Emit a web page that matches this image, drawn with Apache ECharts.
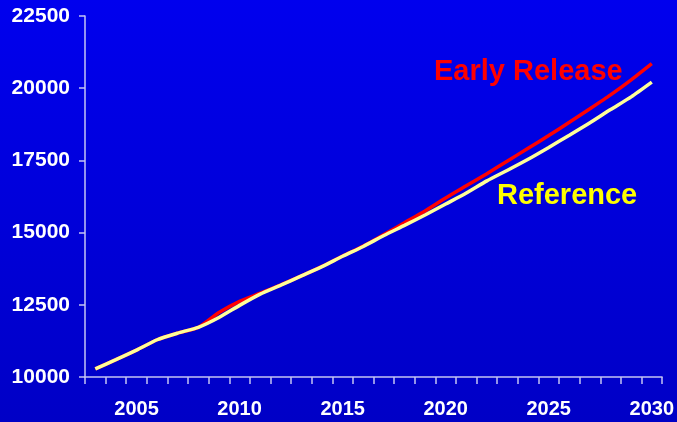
<!DOCTYPE html>
<html>
<head>
<meta charset="utf-8">
<script src="https://cdn.jsdelivr.net/npm/echarts@6/dist/echarts.min.js"></script>
<style>
  html, body { margin: 0; padding: 0; }
  #chart { width: 677px; height: 422px; }
</style>
</head>
<body>
<div id="chart"></div>
<script>
// Years on the horizontal axis
const years = [2003, 2004, 2005, 2006, 2007, 2008, 2009, 2010, 2011, 2012,
               2013, 2014, 2015, 2016, 2017, 2018, 2019, 2020, 2021, 2022,
               2023, 2024, 2025, 2026, 2027, 2028, 2029, 2030];

// Early Release projection
const earlyRelease = [10280, 10600, 10930, 11290, 11520, 11720, 12230, 12620, 12900, 13190,
                      13500, 13830, 14190, 14530, 14930, 15340, 15750, 16200, 16620, 17040,
                      17480, 17920, 18360, 18820, 19290, 19770, 20290, 20850];

// Reference projection
const reference = [10280, 10600, 10930, 11290, 11520, 11720, 12060, 12480, 12870, 13180,
                   13500, 13820, 14180, 14520, 14900, 15250, 15610, 15990, 16370, 16790,
                   17160, 17540, 17950, 18370, 18800, 19260, 19700, 20210];

// Value axis ticks
const yMin = 10000;
const yMax = 22500;
const yStep = 2500;

const axisColor = '#C4C4F4';
const font = '"Liberation Sans", Arial, sans-serif';

const chart = echarts.init(document.getElementById('chart'), null, { renderer: 'canvas' });

chart.setOption({
  animation: false,
  backgroundColor: new echarts.graphic.LinearGradient(0, 0, 0, 1, [
    { offset: 0, color: '#0000EE' },
    { offset: 1, color: '#0000C6' }
  ]),
  grid: { left: 85, right: 13, top: 16, bottom: 45, containLabel: false },
  xAxis: {
    type: 'category',
    data: years.map(String),
    boundaryGap: true,
    axisLine: { show: true, lineStyle: { color: axisColor, width: 1.5 } },
    axisTick: { show: true, interval: 0, length: 7, lineStyle: { color: axisColor, width: 1.5 } },
    axisLabel: {
      interval: (i, v) => Number(v) % 5 === 0,
      color: '#FFFFFF',
      fontFamily: font,
      fontWeight: 'bold',
      fontSize: 20,
      margin: 22
    },
    splitLine: { show: false }
  },
  yAxis: {
    type: 'value',
    min: yMin,
    max: yMax,
    interval: yStep,
    axisLine: { show: true, lineStyle: { color: axisColor, width: 1.5 } },
    axisTick: { show: true, length: 6, lineStyle: { color: axisColor, width: 1.5 } },
    axisLabel: {
      formatter: (v) => String(v),
      color: '#FFFFFF',
      fontFamily: font,
      fontWeight: 'bold',
      fontSize: 21,
      margin: 15
    },
    splitLine: { show: false }
  },
  series: [
    {
      name: 'Early Release',
      type: 'line',
      data: earlyRelease,
      showSymbol: false,
      smooth: 0.2,
      lineStyle: { color: '#FF0000', width: 3.5 },
      z: 2
    },
    {
      name: 'Reference',
      type: 'line',
      data: reference,
      showSymbol: false,
      smooth: 0.2,
      lineStyle: { color: '#FFFF99', width: 3.5 },
      z: 3
    }
  ],
  graphic: [
    {
      type: 'text',
      left: 434,
      top: 57,
      style: {
        text: 'Early Release',
        fill: '#FF0000',
        font: 'bold 29px ' + font
      }
    },
    {
      type: 'text',
      left: 497,
      top: 181,
      style: {
        text: 'Reference',
        fill: '#FFFF00',
        font: 'bold 29px ' + font
      }
    }
  ]
});
</script>
</body>
</html>
